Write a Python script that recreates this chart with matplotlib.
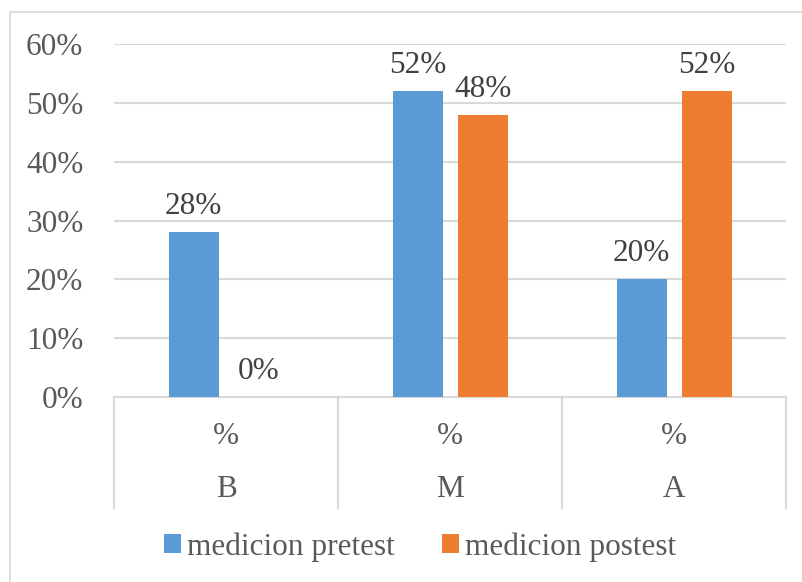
import matplotlib.pyplot as plt
from matplotlib.patches import Rectangle
import numpy as np

categories = ["B", "M", "A"]
group_label = "%"
pretest = [28, 52, 20]
postest = [0, 48, 52]
series_names = ["medicion pretest", "medicion postest"]
yticks = [0, 10, 20, 30, 40, 50, 60]

blue = "#5b9bd5"
orange = "#ed7d31"
grid_c = "#d9d9d9"
text_c = "#595959"
fs = 22.5

plt.rcParams["font.family"] = ["Liberation Serif", "DejaVu Serif"]

fig = plt.figure(figsize=(8.03, 5.82), dpi=100)
ax = fig.add_axes([0.142, 0.318, 0.837, 0.606])

# outer chart border
fig.patches.append(Rectangle((10 / 803, -0.1), 1.2, 1 - 12 / 582 + 0.1,
                             transform=fig.transFigure, fill=False,
                             edgecolor=grid_c, linewidth=1.2))

x = np.arange(len(categories))
w = 0.223
off = 0.145
b1 = ax.bar(x - off, pretest, w, color=blue, zorder=3)
b2 = ax.bar(x + off, postest, w, color=orange, zorder=3)

for bars, vals in ((b1, pretest), (b2, postest)):
    for r, v in zip(bars, vals):
        ax.annotate(f"{v}%", (r.get_x() + r.get_width() / 2, v),
                    xytext=(0, 8), textcoords="offset points",
                    ha="center", va="bottom", fontsize=fs, color="#404040")

ax.set_xlim(-0.5, 2.5)
ax.set_ylim(0, 60)
ax.set_yticks(yticks)
ax.set_yticklabels([f"{t}%" for t in yticks], fontsize=fs, color=text_c)
ax.tick_params(axis="y", length=0, pad=22)
ax.set_xticks([])
ax.yaxis.grid(True, color=grid_c, linewidth=1.5, zorder=0)
for s in ("top", "right", "left"):
    ax.spines[s].set_visible(False)
ax.spines["bottom"].set_color(grid_c)
ax.spines["bottom"].set_linewidth(1.5)

# multi-level category axis below the plot
tr = ax.get_xaxis_transform()
for d in np.arange(-0.5, 3, 1):
    ax.plot([d, d], [0, -0.314], transform=tr, color=grid_c,
            linewidth=1.5, clip_on=False)
for i, c in enumerate(categories):
    ax.text(i, -0.113, group_label, transform=tr, ha="center", va="center",
            fontsize=fs, color=text_c)
    ax.text(i, -0.263, c, transform=tr, ha="center", va="center",
            fontsize=fs, color=text_c)

leg = fig.legend([b1, b2], series_names, loc="center",
                 bbox_to_anchor=(0.523, 1 - 547 / 582), ncol=2, frameon=False,
                 fontsize=fs, handlelength=0.55, handleheight=0.55,
                 handletextpad=0.2, columnspacing=1.5)
for t in leg.get_texts():
    t.set_color(text_c)

fig.savefig("out.png", dpi=100)
